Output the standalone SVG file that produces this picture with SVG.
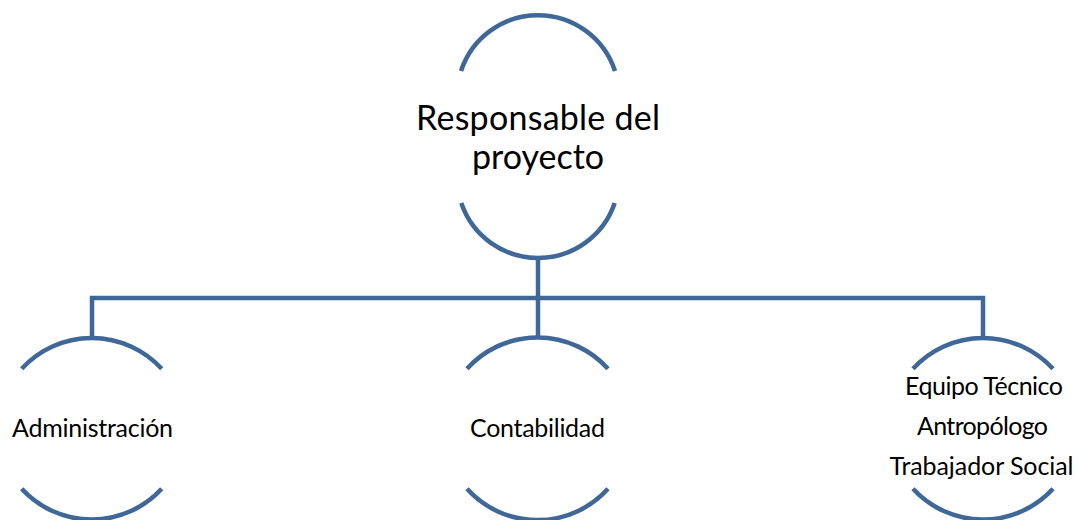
<svg xmlns="http://www.w3.org/2000/svg" width="1079" height="520" viewBox="0 0 1079 520">
  <style>
    .arc { fill: none; stroke: #3F6899; stroke-width: 4.5; }
    .conn { fill: none; stroke: #3F6899; stroke-width: 4.5; stroke-linejoin: miter; }
    .lbl { font-family: Lato, "Open Sans", sans-serif; fill: #000000; text-anchor: middle; }
    .big { font-size: 34px; }
    .small { font-size: 25px; }
  </style>
  <rect width="1079" height="520" fill="#ffffff"/>
  <g id="connectors">
    <path class="conn" d="M538,258 V338"/>
    <path class="conn" d="M92,338 V298 H983 V338"/>
  </g>
  <g id="node-responsable">
    <path class="arc" d="M461,71 A81,81 0 0 1 615,71"/>
    <path class="arc" d="M461.3,203 A81,81 0 0 0 614.7,203"/>
    <text class="lbl big" x="538" y="130" textLength="244">Responsable del</text>
    <text class="lbl big" x="538" y="169" textLength="132">proyecto</text>
  </g>
  <g id="node-administracion">
    <path class="arc" d="M21.7,368.8 A95,95 0 0 1 161.7,368.8"/>
    <path class="arc" d="M21.7,488.8 A95,95 0 0 0 161.7,488.8"/>
    <text class="lbl small" x="92.5" y="437" textLength="161">Administración</text>
  </g>
  <g id="node-contabilidad">
    <path class="arc" d="M467,368.8 A95,95 0 0 1 608,368.8"/>
    <path class="arc" d="M467,488.8 A95,95 0 0 0 608,488.8"/>
    <text class="lbl small" x="537.5" y="437" textLength="135">Contabilidad</text>
  </g>
  <g id="node-equipo">
    <path class="arc" d="M913,368.8 A95,95 0 0 1 1053,368.8"/>
    <path class="arc" d="M913,488.8 A95,95 0 0 0 1053,488.8"/>
    <text class="lbl small" x="984" y="395" textLength="158">Equipo Técnico</text>
    <text class="lbl small" x="982.5" y="435" textLength="131">Antropólogo</text>
    <text class="lbl small" x="981.5" y="475" textLength="184">Trabajador Social</text>
  </g>
</svg>
